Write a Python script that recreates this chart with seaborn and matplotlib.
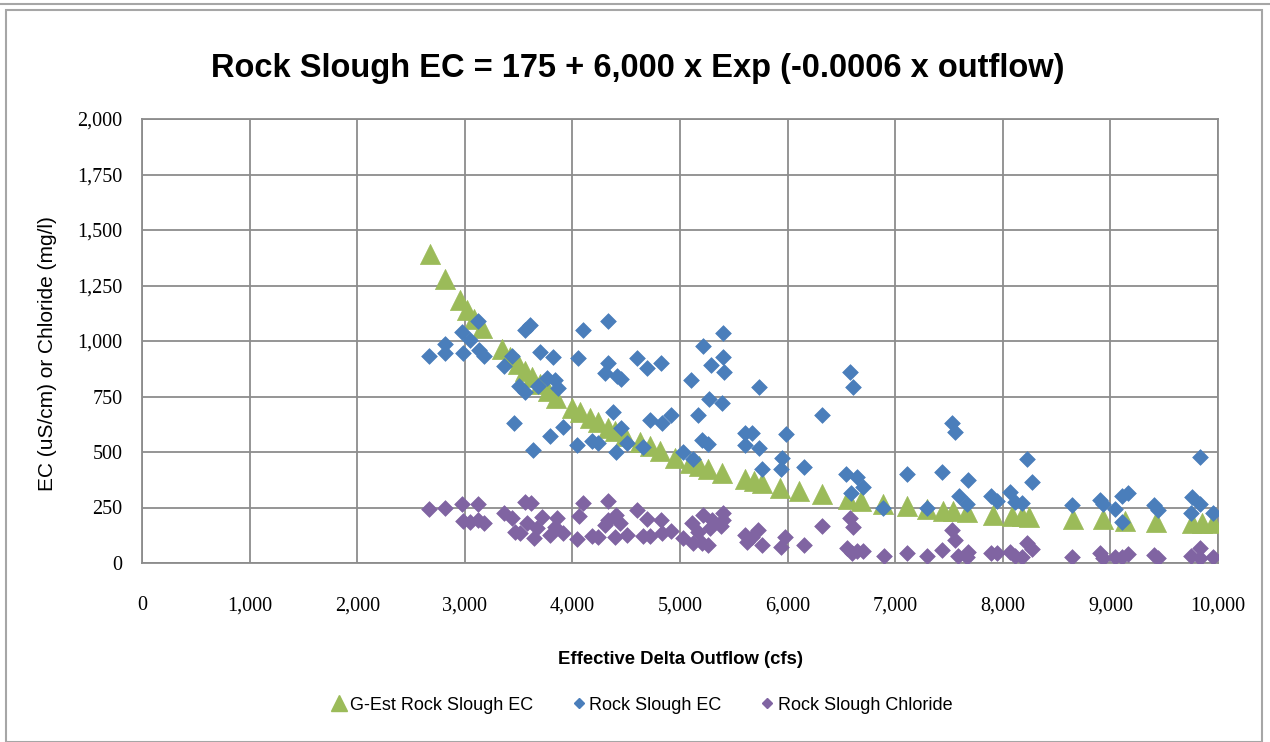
import matplotlib
matplotlib.use("Agg")
import matplotlib.pyplot as plt
from matplotlib.lines import Line2D
from matplotlib.patches import Rectangle
from matplotlib.ticker import FuncFormatter, MultipleLocator
import seaborn as sns
import pandas as pd

# ---------------- data ----------------
gest_x = [2680, 2820, 2960, 3020, 3090, 3160, 3350, 3420, 3490, 3560, 3620, 3700,
          3770, 3850, 4000, 4070, 4160, 4240, 4330, 4400, 4490, 4630, 4720, 4810,
          4950, 5090, 5180, 5260, 5390, 5600, 5690, 5760, 5930, 6110, 6320, 6560,
          6680, 6890, 7110, 7300, 7440, 7540, 7670, 7910, 8090, 8180, 8240, 8650,
          8930, 9140, 9420, 9760, 9850, 9950]
gest_y = [1390, 1280, 1185, 1140, 1100, 1060, 965, 930, 895, 865, 840, 805,
          775, 745, 700, 680, 655, 635, 610, 595, 570, 545, 525, 505,
          475, 450, 435, 425, 405, 380, 370, 360, 340, 325, 310, 290,
          280, 265, 255, 245, 235, 232, 228, 218, 212, 210, 207, 200,
          196, 190, 186, 182, 180, 178]

ec_x = [2667, 2816, 2816, 2974, 2983, 3048, 3123, 3132, 3178, 3364, 3439, 3560,
        3606, 3699, 3504, 3680, 3560, 3457, 3634, 3820, 4099, 4331, 4052, 4331,
        4303, 4415, 4452, 4600, 4693, 4823, 3764, 3838, 3866, 4377, 4721, 4833,
        4916, 3913, 3792, 4043, 4182, 4238, 4405, 4452, 4507, 4656, 5400, 5214,
        5400, 5288, 5409, 5102, 5734, 5270, 5391, 5167, 6320, 5605, 5670, 5605,
        5734, 5985, 5205, 5260, 5028, 5121, 5762, 5948, 5939, 6152, 6580, 6608,
        6543, 6645, 6701, 6590, 6887, 7112, 7298, 7437, 7530, 7558, 7679, 7595,
        7669, 7892, 7948, 8069, 8115, 8180, 8227, 8273, 8645, 8905, 8933, 9043,
        9108, 9163, 9108, 9406, 9443, 9758, 9749, 9833, 9833, 9954]
ec_y = [932, 987, 946, 1041, 946, 1005, 1090, 960, 932, 887, 932, 1050,
        1072, 950, 797, 797, 770, 630, 509, 928, 1050, 1090, 924, 901,
        856, 842, 829, 924, 878, 901, 833, 824, 788, 680, 644, 631,
        667, 613, 572, 532, 550, 541, 500, 608, 541, 523, 1036, 978,
        928, 892, 860, 824, 793, 739, 721, 667, 667, 586, 586, 532,
        518, 581, 554, 536, 500, 468, 423, 473, 423, 432, 860, 793,
        401, 388, 342, 315, 248, 401, 248, 410, 631, 590, 374, 302,
        266, 302, 279, 320, 275, 270, 468, 365, 261, 284, 266, 243,
        302, 315, 185, 261, 239, 297, 225, 266, 478, 225]

cl_x = [2667, 2816, 2974, 3123, 2983, 3048, 3123, 3178, 3364, 3439, 3467, 3513,
        3560, 3615, 3578, 3643, 3671, 3718, 4099, 4331, 4600, 4061, 3857, 3792,
        3913, 3838, 4043, 4182, 4238, 4303, 4331, 4405, 4443, 4396, 4507, 4693,
        4656, 4721, 4823, 4833, 4916, 5214, 5400, 5400, 5112, 5298, 5167, 5279,
        5381, 5028, 5121, 5205, 5260, 5605, 5670, 5725, 5762, 5623, 5976, 5939,
        6152, 6320, 6580, 6608, 6552, 6599, 6645, 6701, 6896, 7112, 7298, 7437,
        7530, 7558, 7586, 7679, 7669, 7892, 7948, 8069, 8115, 8180, 8227, 8273,
        8645, 8905, 8933, 9043, 9108, 9163, 9406, 9443, 9749, 9833, 9833, 9954]
cl_y = [243, 248, 266, 266, 189, 185, 194, 180, 225, 203, 140, 135,
        275, 270, 180, 113, 158, 207, 270, 279, 239, 212, 203, 126,
        135, 162, 108, 122, 117, 171, 194, 216, 180, 117, 126, 198,
        122, 122, 194, 135, 144, 216, 225, 194, 180, 194, 140, 158,
        167, 113, 90, 90, 81, 126, 117, 149, 81, 95, 117, 72,
        81, 167, 203, 162, 68, 45, 54, 54, 32, 45, 32, 59,
        149, 104, 32, 50, 27, 45, 45, 50, 32, 27, 90, 63,
        27, 45, 23, 27, 27, 41, 36, 23, 32, 68, 23, 27]

series_names = ["G-Est Rock Slough EC", "Rock Slough EC", "Rock Slough Chloride"]
title_text = "Rock Slough EC = 175 + 6,000 x Exp (-0.0006 x outflow)"
x_label = "Effective Delta Outflow (cfs)"
y_label = "EC (uS/cm) or Chloride (mg/l)"

# ---------------- style ----------------
sns.set_style("white")
plt.rcParams["font.family"] = ["Liberation Sans", "DejaVu Sans"]
plt.rcParams["text.color"] = "black"
plt.rcParams["axes.labelcolor"] = "black"
plt.rcParams["xtick.color"] = "black"
plt.rcParams["ytick.color"] = "black"

C_GREEN = "#9BBB59"
C_BLUE = "#4A7EBB"
C_PURPLE = "#8064A2"
C_GRID = "#8C8C8C"

fig = plt.figure(figsize=(12.7, 7.42), dpi=100)
ax = fig.add_axes([142 / 1270, 1 - 563 / 742, (1218 - 142) / 1270, (563 - 119) / 742])

df_g = pd.DataFrame({"x": gest_x, "y": gest_y})
df_b = pd.DataFrame({"x": ec_x, "y": ec_y})
df_p = pd.DataFrame({"x": cl_x, "y": cl_y})

sns.scatterplot(data=df_g, x="x", y="y", marker="^", s=210, color=C_GREEN,
                edgecolor=C_GREEN, linewidth=0.5, ax=ax, zorder=3, legend=False)
sns.scatterplot(data=df_b, x="x", y="y", marker="D", s=64, color=C_BLUE,
                edgecolor=C_BLUE, linewidth=0.5, ax=ax, zorder=4, legend=False)
sns.scatterplot(data=df_p, x="x", y="y", marker="D", s=64, color=C_PURPLE,
                edgecolor=C_PURPLE, linewidth=0.5, ax=ax, zorder=5, legend=False)

ax.set_xlim(0, 10000)
ax.set_ylim(0, 2000)
ax.xaxis.set_major_locator(MultipleLocator(1000))
ax.yaxis.set_major_locator(MultipleLocator(250))
fmt = FuncFormatter(lambda v, p: f"{int(round(v)):,}")
ax.xaxis.set_major_formatter(fmt)
ax.yaxis.set_major_formatter(fmt)
ax.grid(True, color=C_GRID, linewidth=1.3)
ax.set_axisbelow(True)
for sp in ax.spines.values():
    sp.set_color(C_GRID)
    sp.set_linewidth(1.3)
ax.tick_params(axis="both", which="major", direction="out", length=6, width=1.2,
               color=C_GRID, labelsize=14.5, pad=8, labelcolor="black")
for lab in ax.get_xticklabels() + ax.get_yticklabels():
    lab.set_fontfamily(["Liberation Serif", "DejaVu Serif"])
ax.tick_params(axis="x", pad=18)

ax.set_xlabel(x_label, fontsize=13.3, fontweight="bold", labelpad=26)
ax.set_ylabel(y_label, fontsize=15)
ax.yaxis.set_label_coords(-0.079, 1 - (354 - 119) / 444)

fig.text(638 / 1270, 1 - 68 / 742, title_text, ha="center", va="center",
         fontsize=23.5, fontweight="bold")

handles = [
    Line2D([], [], marker="^", linestyle="none", color=C_GREEN, markersize=12),
    Line2D([], [], marker="D", linestyle="none", color=C_BLUE, markersize=5.5),
    Line2D([], [], marker="D", linestyle="none", color=C_PURPLE, markersize=5.5),
]
fig.legend(handles, series_names, loc="center", bbox_to_anchor=(0.505, 1 - 705 / 742),
           ncol=3, frameon=False, fontsize=13, handletextpad=0.1, columnspacing=2.0,
           handlelength=1.0)

# outer chart frame
fig.patches.append(Rectangle((6 / 1270, 0.0), 1256 / 1270, 1 - 10 / 742,
                             transform=fig.transFigure, fill=False,
                             edgecolor="#A6A6A6", linewidth=1.5))
fig.patches.append(Rectangle((0, 1 - 4 / 742), 1, 0, transform=fig.transFigure,
                             fill=False, edgecolor="#A6A6A6", linewidth=1.5))

fig.savefig("out.png", dpi=100)
